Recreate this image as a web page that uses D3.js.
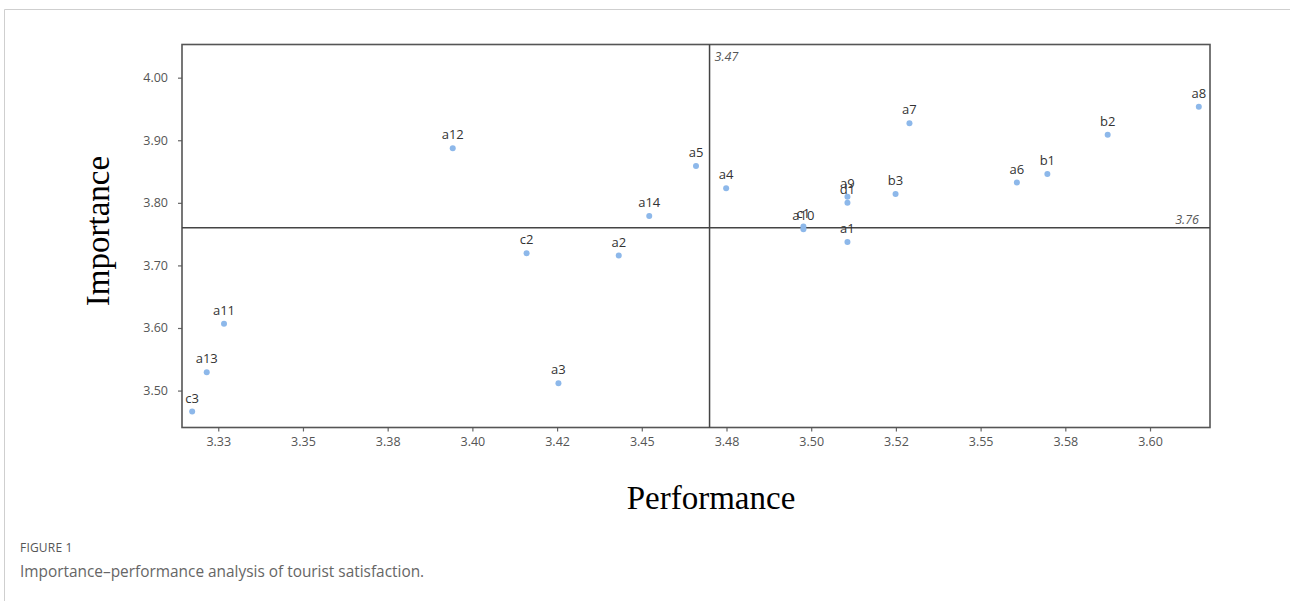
<!DOCTYPE html>
<html>
<head>
<meta charset="utf-8">
<script src="https://cdn.jsdelivr.net/npm/d3@7"></script>
<style>
  html, body { margin: 0; padding: 0; background: #fff; }
  svg { display: block; }
</style>
</head>
<body>
<svg id="chart" width="1290" height="601"></svg>
<script>
// ---- data ----
const labels = ["c3","a13","a11","a12","a5","a4","a14","c2","a2","a3","a7","b3","a9","d1","a1","c1","a10","a6","b1","b2","a8"];
const performance = [3.3173,3.3216,3.3267,3.3942,3.4660,3.4749,3.4522,3.4160,3.4432,3.4254,3.5290,3.5249,3.5107,3.5107,3.5107,3.4977,3.4977,3.5607,3.5697,3.5875,3.6144];
const importance  = [3.4665,3.5294,3.6066,3.8872,3.8589,3.8233,3.7791,3.7195,3.7157,3.5118,3.9272,3.8142,3.8099,3.8003,3.7375,3.7620,3.7578,3.8323,3.8462,3.9089,3.9537];
const xTickValues = [3.325,3.35,3.375,3.40,3.425,3.45,3.475,3.50,3.525,3.55,3.575,3.60];
const xTickLabels = ["3.33","3.35","3.38","3.40","3.42","3.45","3.48","3.50","3.52","3.55","3.58","3.60"];
const yTickValues = [3.50,3.60,3.70,3.80,3.90,4.00];
const yTickLabels = ["3.50","3.60","3.70","3.80","3.90","4.00"];
const meanPerformance = 3.47;
const meanImportance = 3.76;
const meanPerfLabel = "3.47";
const meanImpLabel = "3.76";

const svg = d3.select("#chart");

// card border
svg.append("line").attr("x1",4.5).attr("x2",1290).attr("y1",9.5).attr("y2",9.5).attr("stroke","#cfcfcf").attr("stroke-width",1);
svg.append("line").attr("x1",4.5).attr("x2",4.5).attr("y1",9.5).attr("y2",601).attr("stroke","#cfcfcf").attr("stroke-width",1);

const L = 182, R = 1210, T = 44.5, B = 427.5;
const x = d3.scaleLinear().domain([3.3143, 3.6177]).range([L, R]);
const y = d3.scaleLinear().domain([3.4410, 4.0530]).range([B, T]);

const tickFont = "'Open Sans', 'Noto Sans', sans-serif";

// x axis
const xAxis = d3.axisBottom(x).tickValues(xTickValues).tickSize(4).tickPadding(6)
  .tickFormat((d,i) => xTickLabels[i]);
const gx = svg.append("g").attr("transform", `translate(0,${B})`).call(xAxis);
gx.select(".domain").remove();
gx.selectAll(".tick line").attr("stroke","#666").attr("stroke-width",1.2);
gx.selectAll(".tick text").attr("fill","#555").attr("font-family",tickFont).attr("font-size",12.5);

// y axis
const yAxis = d3.axisLeft(y).tickValues(yTickValues).tickSize(4).tickPadding(10)
  .tickFormat((d,i) => yTickLabels[i]);
const gy = svg.append("g").attr("transform", `translate(${L},0)`).call(yAxis);
gy.select(".domain").remove();
gy.selectAll(".tick line").attr("stroke","#666").attr("stroke-width",1.2);
gy.selectAll(".tick text").attr("fill","#555").attr("font-family",tickFont).attr("font-size",12.5);

// frame
svg.append("rect").attr("x",L).attr("y",T).attr("width",R-L).attr("height",B-T)
  .attr("fill","none").attr("stroke","#555").attr("stroke-width",1.6);

// reference lines
svg.append("line").attr("x1",x(meanPerformance)).attr("x2",x(meanPerformance)).attr("y1",T).attr("y2",B)
  .attr("stroke","#444").attr("stroke-width",1.5);
svg.append("line").attr("x1",L).attr("x2",R).attr("y1",y(meanImportance)).attr("y2",y(meanImportance))
  .attr("stroke","#444").attr("stroke-width",1.5);
svg.append("text").attr("x",x(meanPerformance)+5).attr("y",T+16).text(meanPerfLabel)
  .attr("font-family",tickFont).attr("font-style","italic").attr("font-size",12.5).attr("fill","#555");
svg.append("text").attr("x",R-11).attr("y",y(meanImportance)-4).attr("text-anchor","end").text(meanImpLabel)
  .attr("font-family",tickFont).attr("font-style","italic").attr("font-size",12.5).attr("fill","#555");

// points
const pts = labels.map((l,i) => ({label:l, p:performance[i], imp:importance[i]}));
svg.append("g").selectAll("circle").data(pts).join("circle")
  .attr("cx", d => x(d.p)).attr("cy", d => y(d.imp)).attr("r",3)
  .attr("fill","#8db8ea");
svg.append("g").selectAll("text").data(pts).join("text")
  .attr("x", d => x(d.p)).attr("y", d => y(d.imp) - 9)
  .attr("text-anchor","middle").text(d => d.label)
  .attr("font-family",tickFont).attr("font-size",13).attr("fill","#333");

// axis titles
svg.append("text").attr("transform","translate(109,231) rotate(-90)").attr("text-anchor","middle")
  .text("Importance").attr("font-family","'Liberation Serif','Times New Roman',serif").attr("font-size",33).attr("fill","#000");
svg.append("text").attr("x",711).attr("y",509).attr("text-anchor","middle")
  .text("Performance").attr("font-family","'Liberation Serif','Times New Roman',serif").attr("font-size",33).attr("fill","#000");

// caption
svg.append("text").attr("x",20).attr("y",552).text("FIGURE 1")
  .attr("font-family","'Open Sans', sans-serif").attr("font-size",12).attr("fill","#555").attr("letter-spacing",0.2);
svg.append("text").attr("x",20).attr("y",577).text("Importance–performance analysis of tourist satisfaction.")
  .attr("font-family","'Open Sans', sans-serif").attr("font-size",15.4).attr("fill","#666");
</script>
</body>
</html>
